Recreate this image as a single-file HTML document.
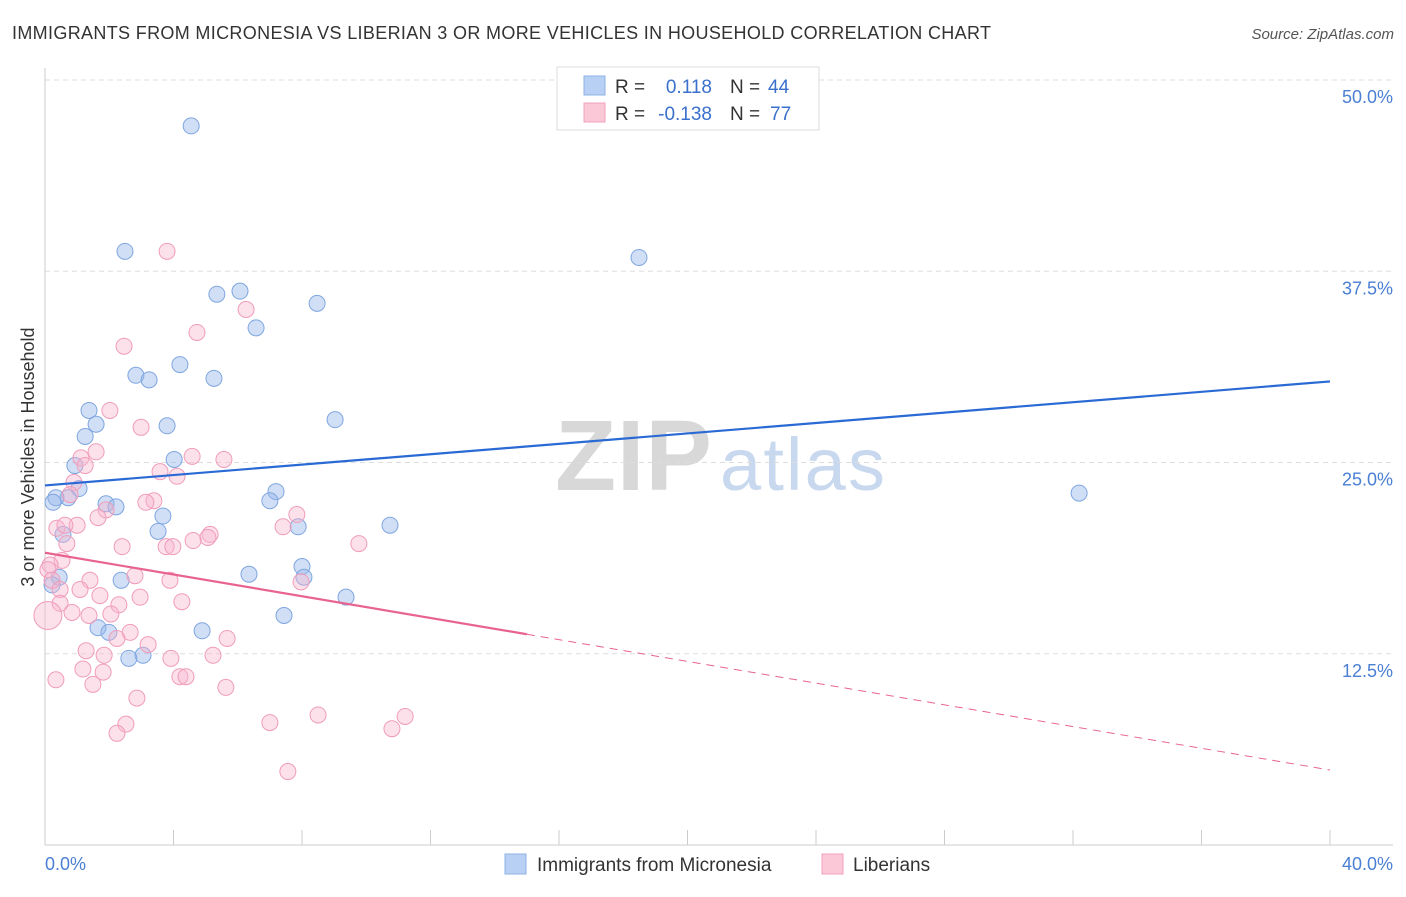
<!DOCTYPE html>
<html><head><meta charset="utf-8"><style>
body{margin:0;background:#fff;font-family:"Liberation Sans",sans-serif;}
svg text{font-family:"Liberation Sans",sans-serif;}
</style></head><body>
<svg id="chart" width="1406" height="892" viewBox="0 0 1406 892" xmlns="http://www.w3.org/2000/svg">
<text x="12" y="39" font-size="18" fill="#333" textLength="979" lengthAdjust="spacing">IMMIGRANTS FROM MICRONESIA VS LIBERIAN 3 OR MORE VEHICLES IN HOUSEHOLD CORRELATION CHART</text>
<text x="1394" y="39" font-size="15" fill="#555" text-anchor="end" font-style="italic">Source: ZipAtlas.com</text>
<g>
<text x="555" y="490" font-size="100" font-family="Liberation Serif" fill="#d8d8d8" font-weight="bold" textLength="157">ZIP</text>
<text x="720" y="490" font-size="74" fill="#c8d8ee" textLength="165">atlas</text>
</g>
<g id="grid"></g>
<g id="axes"></g>
<g id="pts"></g>
<g id="lines"></g>
<text transform="translate(34,457) rotate(-90)" font-size="18" fill="#333" text-anchor="middle">3 or more Vehicles in Household</text>
<text x="45" y="870" font-size="18" fill="#4a7fd4">0.0%</text>
<text x="1393" y="870" font-size="18" fill="#4a7fd4" text-anchor="end">40.0%</text>
<g>
<rect x="557" y="67" width="262" height="63" fill="#fff" stroke="#ddd"/>
<rect x="584" y="76" width="21" height="19" fill="#b8d0f4" stroke="#8fb0e4"/>
<rect x="584" y="103" width="21" height="19" fill="#fbc8d8" stroke="#f0a0bc"/>
<text x="615" y="93" font-size="19" fill="#333">R =</text>
<text x="712" y="93" font-size="19" fill="#3a70cc" text-anchor="end">0.118</text>
<text x="730" y="93" font-size="19" fill="#333">N =</text>
<text x="768" y="93" font-size="19" fill="#3a70cc">44</text>
<text x="615" y="120" font-size="19" fill="#333">R =</text>
<text x="712" y="120" font-size="19" fill="#3a70cc" text-anchor="end">-0.138</text>
<text x="730" y="120" font-size="19" fill="#333">N =</text>
<text x="770" y="120" font-size="19" fill="#3a70cc">77</text>
</g>
<g>
<rect x="505" y="854" width="21" height="20" fill="#b8d0f4" stroke="#8fb0e4"/>
<text x="537" y="871" font-size="19" fill="#333">Immigrants from Micronesia</text>
<rect x="822" y="854" width="21" height="20" fill="#fbc8d8" stroke="#f0a0bc"/>
<text x="853" y="871" font-size="19" fill="#333">Liberians</text>
</g>
</svg>
<script>
const yTicks=[12.5,25,37.5,50];
const yTickLabels=["12.5%","25.0%","37.5%","50.0%"];
const blueX=[4.55,2.49,18.49,5.35,6.07,8.47,6.57,4.20,2.83,3.24,5.26,1.37,9.03,3.80,1.59,1.25,4.02,0.93,1.06,0.72,0.34,0.25,7.19,7.00,1.90,2.21,3.67,3.52,7.88,10.74,0.56,8.0,6.35,2.37,8.06,0.44,0.22,9.37,7.44,1.65,1.99,4.89,3.05,2.61,32.19];
const blueY=[47.0,38.8,38.4,36.0,36.2,35.4,33.8,31.4,30.7,30.4,30.5,28.4,27.8,27.4,27.5,26.7,25.2,24.8,23.3,22.7,22.7,22.4,23.1,22.5,22.3,22.1,21.5,20.5,20.8,20.9,20.3,18.2,17.7,17.3,17.5,17.5,17.0,16.2,15.0,14.2,13.9,14.0,12.4,12.2,23.0];
const pinkX=[3.80,6.26,4.73,2.46,2.02,2.99,1.59,1.12,4.58,5.57,1.25,3.58,4.11,0.90,0.78,3.39,3.14,1.90,1.65,1.00,0.37,0.62,7.41,7.84,5.14,5.07,4.61,3.77,0.68,2.40,3.98,9.77,0.53,0.16,0.09,0.22,0.47,1.40,2.80,3.89,7.97,1.09,1.71,2.96,0.47,2.30,4.26,0.84,1.37,2.05,0.09,2.65,2.24,3.21,5.67,1.28,1.84,5.23,3.92,1.18,1.81,4.20,4.39,0.34,1.49,5.63,2.86,2.52,2.24,7.00,8.50,11.21,10.80,7.56];
const pinkY=[38.8,35.0,33.5,32.6,28.4,27.3,25.7,25.3,25.4,25.2,24.8,24.4,24.1,23.7,22.9,22.5,22.4,21.9,21.4,20.9,20.7,20.9,20.8,21.6,20.3,20.1,19.9,19.5,19.7,19.5,19.5,19.7,18.6,18.3,18.0,17.3,16.7,17.3,17.6,17.3,17.2,16.7,16.3,16.2,15.8,15.7,15.9,15.2,15.0,15.1,15.0,13.9,13.5,13.1,13.5,12.7,12.4,12.4,12.2,11.5,11.3,11.0,11.0,10.8,10.5,10.3,9.6,7.9,7.3,8.0,8.5,8.4,7.6,4.8];
const blueTrend=[23.5,30.3];
const pinkTrend=[19.1,4.9];
const pinkSolidEnd=15;
const NS="http://www.w3.org/2000/svg";
const X=v=>45+v/40*1285, Y=v=>845-v*15.3;
function mk(tag,parent,at){const e=document.createElementNS(NS,tag);for(const k in at)e.setAttribute(k,at[k]);document.getElementById(parent).appendChild(e);return e;}
yTicks.forEach((t,i)=>{
 const l=mk('line','grid',{x1:45,x2:1393,y1:Y(t),y2:Y(t),stroke:'#ddd','stroke-dasharray':'5,4'});
 
 
 const tx=mk('text','grid',{x:1393,y:Y(t)+23,'font-size':18,fill:'#4a7fd4','text-anchor':'end'});
 tx.textContent=yTickLabels[i];
 
 
});
const ax=mk('line','axes',{x1:45,x2:45,y1:68,y2:845,stroke:'#ccc'});


const bx=mk('line','axes',{x1:45,x2:1393,y1:845,y2:845,stroke:'#ccc'});


for(let i=0;i<=10;i++){const t=mk('line','axes',{x1:X(i*4),x2:X(i*4),y1:830,y2:845,stroke:'#ccc'});
 
 }
blueX.forEach((v,i)=>{const c=mk('circle','pts',{cx:X(v),cy:Y(blueY[i]),r:8,fill:'rgba(150,185,235,0.45)',stroke:'#7fa6e0','stroke-width':1});
 
 });
pinkX.forEach((v,i)=>{const c=mk('circle','pts',{cx:X(v),cy:Y(pinkY[i]),r:(i==50?14:8),fill:'rgba(248,180,205,0.4)',stroke:'#f09cba','stroke-width':1});
 
 });
const bl=mk('line','lines',{x1:X(0),y1:Y(blueTrend[0]),x2:X(40),y2:Y(blueTrend[1]),stroke:'#2a6ad4','stroke-width':2.2});


const pe=pinkTrend[0]+(pinkTrend[1]-pinkTrend[0])*pinkSolidEnd/40;
const pl=mk('line','lines',{x1:X(0),y1:Y(pinkTrend[0]),x2:X(pinkSolidEnd),y2:Y(pe),stroke:'#e8648e','stroke-width':2.2});


const pd=mk('line','lines',{x1:X(pinkSolidEnd),y1:Y(pe),x2:X(40),y2:Y(pinkTrend[1]),stroke:'#e8648e','stroke-width':1,'stroke-dasharray':'8,6'});


</script>
</body></html>
